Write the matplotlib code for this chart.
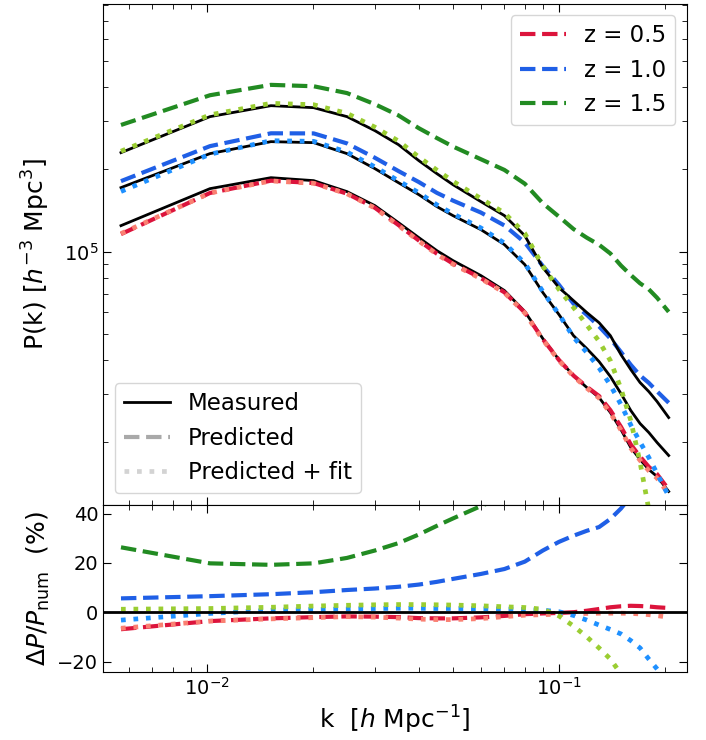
import numpy as np
import matplotlib
matplotlib.use("Agg")
import matplotlib.pyplot as plt
from matplotlib.lines import Line2D
from matplotlib.ticker import NullFormatter

# k bins [h/Mpc]
k = np.array([0.0057, 0.0102, 0.0152, 0.0201, 0.025, 0.030, 0.035, 0.040, 0.045,
              0.050, 0.060, 0.070, 0.080, 0.090, 0.100, 0.110, 0.120, 0.130,
              0.140, 0.150, 0.160, 0.170, 0.180, 0.190, 0.205])

# measured P(k) [h^-3 Mpc^3]
pk_z05 = np.array([1.245e5, 1.701e5, 1.866e5, 1.820e5, 1.659e5, 1.474e5, 1.277e5,
                   1.125e5, 1.008e5, 0.927e5, 0.817e5, 0.720e5, 0.603e5, 0.480e5,
                   0.402e5, 0.3513e5, 0.3176e5, 0.2919e5, 0.2572e5, 0.2228e5,
                   0.1914e5, 0.1730e5, 0.1590e5, 0.1499e5, 0.1321e5])
pk_z10 = np.array([1.716e5, 2.286e5, 2.529e5, 2.508e5, 2.286e5, 2.014e5, 1.789e5,
                   1.617e5, 1.462e5, 1.355e5, 1.204e5, 1.061e5, 0.896e5, 0.708e5,
                   0.588e5, 0.492e5, 0.441e5, 0.3955e5, 0.3484e5, 0.3019e5,
                   0.2616e5, 0.2344e5, 0.2173e5, 0.1997e5, 0.1790e5])
pk_z15 = np.array([2.305e5, 3.123e5, 3.426e5, 3.369e5, 3.123e5, 2.775e5, 2.466e5,
                   2.154e5, 1.931e5, 1.759e5, 1.525e5, 1.355e5, 1.144e5, 0.874e5,
                   0.738e5, 0.661e5, 0.598e5, 0.549e5, 0.492e5, 0.4195e5,
                   0.3696e5, 0.3312e5, 0.3070e5, 0.2822e5, 0.2465e5])

# relative difference (%) of predictions wrt measured
dpred_z05 = np.array([-6.9, -3.6, -2.5, -2.0, -1.7, -1.8, -2.0, -2.4, -2.5, -2.5,
                      -2.1, -1.5, -0.8, -0.5, -0.3, 0.0, 0.6, 1.3, 2.0, 2.4,
                      2.6, 2.5, 2.3, 2.0, 1.7])
dpred_z10 = np.array([5.6, 6.5, 7.3, 8.1, 9.0, 9.6, 10.3, 11.2, 12.3, 13.5,
                      15.5, 17.5, 20.5, 25.0, 28.5, 31.0, 33.0, 34.5, 37.8, 42.0,
                      47.0, 50.0, 52.0, 54.0, 56.0])
dpred_z15 = np.array([26.3, 19.8, 19.2, 19.8, 22.0, 25.0, 28.0, 31.5, 35.0, 38.0,
                      43.0, 47.0, 55.0, 72.0, 82.0, 83.0, 88.0, 93.0, 100.0, 112.0,
                      122.0, 131.0, 137.0, 140.0, 144.0])

dfit_z05 = np.array([-6.5, -3.6, -2.7, -2.2, -1.8, -2.0, -2.4, -2.8, -3.0, -3.0,
                     -2.6, -1.8, -1.2, -1.0, -0.8, -0.6, -0.5, -0.4, -0.4, -0.4,
                     -0.5, -0.7, -1.0, -1.4, -2.0])
dfit_z10 = np.array([-3.2, -0.5, 0.8, 1.1, 1.3, 1.5, 1.6, 1.6, 1.5, 1.5,
                     1.4, 1.3, 1.1, 0.8, 0.2, -1.3, -3.2, -5.2, -7.0, -8.8,
                     -11.5, -14.5, -19.0, -23.0, -29.0])
dfit_z15 = np.array([1.2, 1.5, 2.0, 2.5, 2.8, 3.0, 3.1, 3.1, 3.0, 2.9,
                     2.6, 2.2, 1.9, 1.2, -1.5, -5.6, -10.0, -14.5, -19.0, -25.0,
                     -35.0, -49.0, -63.0, -72.0, -80.0])

labels = ["z = 0.5", "z = 1.0", "z = 1.5"]
pk_all = [pk_z05, pk_z10, pk_z15]
dpred_all = [dpred_z05, dpred_z10, dpred_z15]
dfit_all = [dfit_z05, dfit_z10, dfit_z15]
col_pred = ["crimson", "#1f5fe6", "forestgreen"]
col_fit = ["salmon", "dodgerblue", "yellowgreen"]

fig, (ax1, ax2) = plt.subplots(2, 1, sharex=True, figsize=(7.06, 7.40), dpi=100,
                               gridspec_kw={"height_ratios": [3, 1], "hspace": 0})
fig.subplots_adjust(left=0.146, right=0.973, top=0.995, bottom=0.092)

pred_lines = []
for pk, dp, df, cp, cf, lab in zip(pk_all, dpred_all, dfit_all, col_pred, col_fit, labels):
    ax1.plot(k, pk, color="black", lw=2)
    l, = ax1.plot(k, pk * (1 + dp / 100.0), color=cp, ls="--", lw=3, label=lab)
    pred_lines.append(l)
    ax1.plot(k, pk * (1 + df / 100.0), color=cf, ls=":", lw=3.4)

    ax2.plot(k, dp, color=cp, ls="--", lw=3)
    ax2.plot(k, df, color=cf, ls=":", lw=3.4)

ax2.axhline(0, color="black", lw=2)

ax1.set_xscale("log")
ax1.set_yscale("log")
ax1.set_xlim(0.00507, 0.231)
ax1.set_ylim(1.18e4, 8.1e5)
ax2.set_ylim(-24.2, 43.5)
ax2.set_yticks([-20, 0, 20, 40])

for ax in (ax1, ax2):
    ax.tick_params(which="both", direction="in", top=True, right=True, labelsize=14)
    ax.tick_params(which="major", length=6)
    ax.tick_params(which="minor", length=3.5)
ax1.yaxis.set_minor_formatter(NullFormatter())
ax2.xaxis.set_minor_formatter(NullFormatter())

ax1.set_ylabel(r"P(k) [$h^{-3}$ Mpc$^3$]", fontsize=18)
ax2.set_ylabel(r"$\Delta P/P_{\rm num}$  (%)", fontsize=18)
ax2.set_xlabel(r"k  [$h$ Mpc$^{-1}$]", fontsize=18)

leg1 = ax1.legend(handles=pred_lines, loc="upper right", fontsize=16.5)
ax1.add_artist(leg1)
proxies = [Line2D([], [], color="black", lw=2),
           Line2D([], [], color="darkgray", ls="--", lw=3),
           Line2D([], [], color="lightgray", ls=":", lw=3.4)]
ax1.legend(proxies, ["Measured", "Predicted", "Predicted + fit"],
           loc="lower left", fontsize=16.5)

fig.align_ylabels([ax1, ax2])
fig.savefig("out.png", dpi=100)
